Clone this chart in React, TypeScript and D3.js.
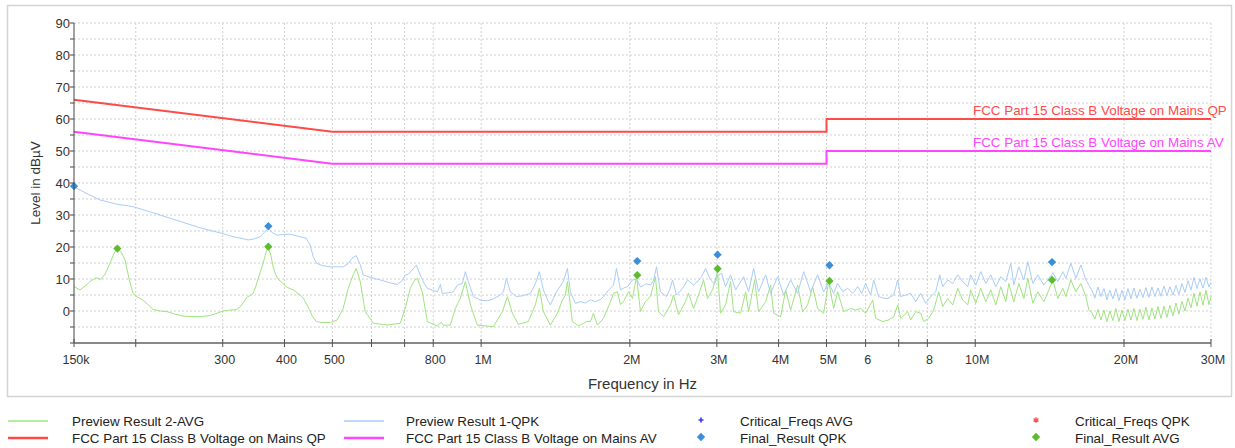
import React from "react";
import * as d3 from "d3";

// ---------- data ----------
const X_TICKS_MHZ = [0.15, 0.2, 0.3, 0.4, 0.5, 0.6, 0.7, 0.8, 1, 2, 3, 4, 5, 6, 7, 8, 10, 20, 30];
const X_TICK_LABELS = ["150k", "", "300", "400", "500", "", "", "800", "1M", "2M", "3M", "4M", "5M", "6", "", "8", "10M", "20M", "30M"];
const Y_LABEL_VALUES = [0, 10, 20, 30, 40, 50, 60, 70, 80, 90];
const Y_GRID_VALUES = [-5, 0, 5, 10, 15, 20, 25, 30, 35, 40, 45, 50, 55, 60, 65, 70, 75, 80, 85, 90];

const QP_LIMIT: [number, number][] = [[0.15, 66], [0.5, 56], [5, 56], [5, 60], [30, 60]];
const AV_LIMIT: [number, number][] = [[0.15, 56], [0.5, 46], [5, 46], [5, 50], [30, 50]];

const FINAL_QPK: [number, number][] = [[0.15, 39.0], [0.371, 26.5], [2.07, 15.6], [3.01, 17.6], [5.07, 14.3], [14.3, 15.3]];
const FINAL_AVG: [number, number][] = [[0.1836, 19.5], [0.371, 20.1], [2.07, 11.2], [3.01, 13.2], [5.07, 9.4], [14.3, 9.7]];

// Preview Result 1-QPK  [MHz, dBµV]
const PREVIEW_QPK: [number, number][] = [
  [0.150, 38.8], [0.1543, 37.8], [0.1616, 36.2], [0.1693, 34.7], [0.1816, 33.5], [0.1975, 32.6], [0.2138, 31.0],
  [0.2347, 29.0], [0.2700, 26.0], [0.2895, 24.8], [0.3033, 24.0], [0.3149, 23.2], [0.3253, 22.8], [0.3377, 22.2],
  [0.3489, 22.6], [0.3571, 23.2], [0.3638, 24.5], [0.3707, 26.0], [0.3777, 24.5], [0.3866, 23.7], [0.3975, 23.9],
  [0.4107, 24.0], [0.4303, 23.2], [0.4425, 22.8], [0.4509, 20.6], [0.4572, 17.0], [0.4637, 15.0], [0.4768, 14.2],
  [0.4950, 13.8], [0.5259, 13.8], [0.5383, 14.8], [0.5484, 16.5], [0.5587, 17.3], [0.5693, 14.5], [0.5773, 11.3],
  [0.5965, 10.5], [0.6249, 9.7], [0.6548, 8.8], [0.6765, 8.3], [0.6924, 9.5], [0.7022, 11.2], [0.7121, 11.5],
  [0.7255, 12.8], [0.7392, 14.4], [0.7531, 11.2], [0.7675, 8.5], [0.7783, 7.1], [0.7967, 6.5], [0.8154, 6.0],
  [0.8231, 7.5], [0.8269, 8.3], [0.8347, 5.5], [0.8584, 5.7], [0.8786, 6.0], [0.8951, 8.1], [0.9163, 8.6],
  [0.9292, 12.3], [0.9423, 9.2], [0.9646, 4.5], [0.9965, 3.4], [1.0295, 3.2], [1.0587, 3.8], [1.0939, 5.0],
  [1.1093, 6.0], [1.1248, 10.2], [1.1460, 6.0], [1.1785, 4.5], [1.2177, 4.8], [1.2581, 5.5], [1.2876, 8.5],
  [1.3118, 12.3], [1.3365, 6.6], [1.3681, 3.0], [1.3809, 1.9], [1.4201, 6.0], [1.4672, 9.2], [1.4949, 13.3],
  [1.5159, 6.0], [1.5515, 2.4], [1.5881, 2.9], [1.6261, 2.5], [1.6644, 3.5], [1.7037, 2.9], [1.7439, 3.6],
  [1.7685, 4.5], [1.8103, 6.5], [1.8530, 8.1], [1.8790, 13.3], [1.9144, 6.6], [1.9504, 7.3], [1.9779, 7.6],
  [2.0246, 9.7], [2.0626, 10.0], [2.1015, 7.5], [2.1611, 8.5], [2.2018, 8.1], [2.2328, 9.5], [2.2642, 13.8],
  [2.3069, 6.0], [2.3723, 4.5], [2.4057, 6.5], [2.4397, 9.7], [2.4856, 5.0], [2.5561, 7.0], [2.6166, 9.7],
  [2.6909, 8.1], [2.7544, 9.5], [2.7932, 10.7], [2.8457, 13.3], [2.9129, 9.7], [2.9677, 8.5], [3.0095, 11.0],
  [3.0662, 11.8], [3.1239, 7.6], [3.1976, 11.3], [3.2736, 6.6], [3.3981, 10.7], [3.4782, 6.0], [3.5603, 13.3],
  [3.6443, 6.0], [3.7651, 11.3], [3.8540, 5.5], [3.9819, 10.7], [4.0949, 5.0], [4.2305, 9.7], [4.3708, 5.5],
  [4.4949, 12.3], [4.6440, 6.0], [4.7980, 11.3], [4.9342, 6.0], [5.0505, 9.0], [5.1697, 5.5], [5.2666, 8.6],
  [5.3910, 6.0], [5.5181, 7.1], [5.6484, 5.5], [5.7815, 7.6], [5.8904, 5.5], [6.0013, 8.6], [6.1429, 5.0],
  [6.2295, 9.7], [6.3763, 4.5], [6.5268, 4.0], [6.6497, 3.9], [6.8385, 5.0], [6.9671, 9.7], [7.0654, 4.5],
  [7.2320, 5.0], [7.4027, 5.5], [7.5772, 2.9], [7.7560, 5.5], [7.9390, 2.4], [8.1264, 4.5], [8.3180, 6.0],
  [8.4746, 11.3], [8.5941, 7.6], [8.7967, 9.7], [9.0044, 8.6], [9.2167, 11.3], [9.4343, 9.2], [9.6567, 7.6],
  [9.7929, 11.3], [10.024, 8.1], [10.260, 12.3], [10.505, 8.6], [10.753, 11.3], [11.006, 7.6], [11.266, 10.7],
  [11.532, 9.2], [11.804, 14.9], [11.970, 8.1], [12.252, 13.8], [12.542, 9.7], [12.777, 15.4], [13.079, 8.6],
  [13.387, 11.3], [13.767, 8.1], [14.027, 9.7], [14.358, 12.0], [14.696, 9.2], [15.043, 12.3], [15.255, 10.2],
  [15.615, 14.9], [15.983, 10.2], [16.360, 14.4], [16.746, 9.7], [16.982, 8.1], [17.221, 6.5], [17.463, 4.0],
  [17.709, 7.5], [17.959, 4.5], [18.212, 7.0], [18.468, 3.5], [18.729, 6.5], [18.993, 3.8], [19.261, 7.0],
  [19.532, 3.2], [19.807, 6.5], [20.086, 3.5], [20.369, 7.0], [20.656, 3.8], [20.947, 7.2], [21.242, 4.0],
  [21.541, 6.8], [21.845, 4.2], [22.153, 7.3], [22.465, 4.3], [22.782, 7.5], [23.102, 4.5], [23.427, 7.2],
  [23.758, 4.6], [24.092, 7.8], [24.432, 4.8], [24.776, 7.6], [25.125, 5.0], [25.479, 8.0], [25.839, 5.2],
  [26.203, 8.6], [26.572, 5.8], [26.946, 9.5], [27.326, 6.5], [27.711, 10.5], [28.101, 7.0], [28.497, 10.0],
  [28.898, 7.2], [29.305, 10.5], [29.718, 7.5], [30.0, 9.0],
];

// Preview Result 2-AVG  [MHz, dBµV]
const PREVIEW_AVG: [number, number][] = [
  [0.150, 7.6], [0.1543, 6.6], [0.1586, 8.0], [0.1616, 9.2], [0.1662, 10.4], [0.1701, 9.9], [0.1733, 11.5],
  [0.1774, 14.9], [0.1808, 18.0], [0.1833, 19.5], [0.1868, 18.5], [0.1903, 15.9], [0.1939, 10.0], [0.1975, 5.5],
  [0.2022, 4.3], [0.2069, 3.4], [0.2118, 2.0], [0.2168, 0.5], [0.2240, 0.0], [0.2314, -0.2], [0.2402, -1.0],
  [0.2494, -1.6], [0.2700, -1.8], [0.2828, -1.4], [0.2922, -0.7], [0.3005, 0.0], [0.3105, 0.3], [0.3193, 0.4],
  [0.3253, 1.3], [0.3314, 3.0], [0.3361, 4.3], [0.3456, 5.5], [0.3505, 8.0], [0.3538, 10.2], [0.3621, 14.9],
  [0.3672, 18.5], [0.3707, 20.0], [0.3759, 17.0], [0.3794, 13.8], [0.3848, 11.0], [0.3884, 9.9], [0.3975, 8.6],
  [0.4050, 7.4], [0.4165, 6.6], [0.4303, 5.0], [0.4364, 4.0], [0.4467, 1.3], [0.4551, -1.5], [0.4637, -3.3],
  [0.4768, -3.6], [0.4950, -3.6], [0.5114, -2.8], [0.5186, -1.0], [0.5259, 0.8], [0.5383, 7.1], [0.5510, 11.3],
  [0.5587, 13.3], [0.5693, 9.2], [0.5827, -0.2], [0.6049, -3.8], [0.6457, -4.4], [0.6860, -3.8], [0.7022, 0.8],
  [0.7188, 7.1], [0.7323, 9.5], [0.7426, 10.2], [0.7601, 6.0], [0.7783, -3.3], [0.8154, -4.7], [0.8308, -3.5],
  [0.8386, -4.5], [0.8664, -4.4], [0.8868, 0.8], [0.9078, 4.0], [0.9292, 9.2], [0.9512, 1.9], [0.9826, -4.4],
  [1.0587, -4.9], [1.1041, -0.2], [1.1301, 4.5], [1.1568, -0.7], [1.1896, -4.2], [1.2464, -3.3], [1.2876, 1.9],
  [1.3118, 7.1], [1.3365, -0.2], [1.3809, -4.4], [1.4267, -0.7], [1.4604, 3.4], [1.4810, 5.0], [1.4949, 9.2],
  [1.5301, -3.3], [1.5660, -4.4], [1.5881, -4.4], [1.6337, -3.3], [1.6644, -3.3], [1.6879, -0.7], [1.7197, -4.4],
  [1.7685, -2.3], [1.8272, 2.9], [1.8530, 5.5], [1.8878, 6.0], [1.9144, 2.0], [1.9414, 2.9], [1.9871, 6.0],
  [2.0246, 3.9], [2.0626, 10.7], [2.1015, -0.2], [2.1510, 3.0], [2.2018, 4.5], [2.2537, 10.7], [2.2854, -0.2],
  [2.3394, -1.8], [2.4170, 1.9], [2.4511, 5.0], [2.5089, -1.2], [2.5924, 3.0], [2.6289, 5.5], [2.6909, 0.8],
  [2.7544, 5.0], [2.8194, 9.7], [2.8724, 3.9], [2.9402, 6.6], [3.0095, 12.3], [3.0519, -0.7], [3.1239, 1.9],
  [3.1976, 9.2], [3.2427, -0.2], [3.3509, -0.7], [3.4298, 6.0], [3.4782, -0.2], [3.5769, 9.7], [3.6443, -0.2],
  [3.7651, 2.9], [3.8540, 8.1], [3.9083, -0.7], [4.0380, -1.8], [4.1330, 6.6], [4.2305, 0.3], [4.3708, 8.1],
  [4.4740, -0.2], [4.5794, 1.9], [4.6875, 7.6], [4.7980, 0.8], [4.9342, -0.7], [5.0505, 9.2], [5.1697, 0.8],
  [5.2666, 6.0], [5.4161, -0.2], [5.5959, 0.8], [5.7278, 0.3], [5.8630, 0.8], [6.0013, -0.7], [6.2005, 3.4],
  [6.2877, -2.3], [6.4965, -3.3], [6.6809, -2.8], [6.8385, -1.8], [6.9671, 1.9], [7.0654, -2.3], [7.2998, -0.2],
  [7.4027, -2.8], [7.5772, -0.2], [7.7560, -0.7], [7.8653, -3.3], [8.0509, -2.3], [8.2409, 0.3], [8.4352, 6.0],
  [8.5941, 1.4], [8.7967, 3.9], [9.0044, 1.9], [9.2167, 7.1], [9.4343, 3.4], [9.6567, 1.9], [9.7929, 6.6],
  [10.024, 2.4], [10.260, 7.1], [10.505, 2.9], [10.753, 6.6], [11.006, 1.9], [11.266, 7.6], [11.532, 2.9],
  [11.694, 8.6], [11.970, 2.9], [12.252, 8.6], [12.542, 3.9], [12.777, 10.2], [13.079, 2.4], [13.387, 6.0],
  [13.767, 2.9], [14.092, 6.6], [14.358, 9.7], [14.696, 3.9], [15.043, 7.1], [15.255, 4.5], [15.615, 9.7],
  [15.983, 6.0], [16.360, 8.6], [16.746, 4.5], [16.982, 0.3], [17.221, -0.5], [17.463, -2.5], [17.709, 0.5],
  [17.959, -2.8], [18.212, 0.3], [18.468, -3.3], [18.729, 0.0], [18.993, -3.0], [19.261, 0.8], [19.532, -3.3],
  [19.807, 0.3], [20.086, -3.0], [20.369, 0.6], [20.656, -2.8], [20.947, 0.8], [21.242, -3.0], [21.541, 0.5],
  [21.845, -2.6], [22.153, 1.2], [22.465, -2.8], [22.782, 1.0], [23.102, -2.5], [23.427, 1.4], [23.758, -2.3],
  [24.092, 1.5], [24.432, -2.0], [24.776, 1.8], [25.125, -1.5], [25.479, 2.5], [25.839, -1.0], [26.203, 3.0],
  [26.572, 0.0], [26.946, 4.0], [27.326, 1.0], [27.711, 5.5], [28.101, 1.5], [28.497, 6.0], [28.898, 1.8],
  [29.305, 6.5], [29.718, 2.0], [30.0, 4.5],
];

const LIMIT_LABELS = ["FCC Part 15 Class B Voltage on Mains QP", "FCC Part 15 Class B Voltage on Mains AV"];

// ---------- styling ----------
const FONT = "'Liberation Sans', Arial, sans-serif";
const C_QPK = "#a9cdf6";
const C_AVG = "#9fe47f";
const C_QP = "#ff4a4a";
const C_AV = "#ff45ff";
const C_QPK_PT = "#3a8fd9";
const C_AVG_PT = "#5bbd2c";

export default function App() {
  const W = 1235, H = 448;
  const x = d3.scaleLog().domain([0.15, 30]).range([74, 1211]);
  const y = d3.scaleLinear().domain([-10, 90]).range([343, 23]);
  const line = d3.line<[number, number]>().x((d) => x(d[0])).y((d) => y(d[1]));
  const diamond = d3.symbol().type(d3.symbolDiamond2).size(44)();
  const plus = d3.symbol().type(d3.symbolCross).size(14)();
  const star = d3.symbol().type(d3.symbolAsterisk).size(22)();
  const [x0, x1] = x.range();
  const [yb, yt] = y.range();

  const legend = [
    { kind: "line", color: C_AVG, label: "Preview Result 2-AVG", lx: 8, tx: 72, row: 0, w: 1.5 },
    { kind: "line", color: C_QPK, label: "Preview Result 1-QPK", lx: 344, tx: 406, row: 0, w: 1.5 },
    { kind: "plus", color: "#3b3bf0", label: "Critical_Freqs AVG", lx: 701, tx: 740, row: 0 },
    { kind: "star", color: "#ff5050", label: "Critical_Freqs QPK", lx: 1036, tx: 1075, row: 0 },
    { kind: "line", color: C_QP, label: LIMIT_LABELS[0], lx: 8, tx: 72, row: 1, w: 2.5 },
    { kind: "line", color: C_AV, label: LIMIT_LABELS[1], lx: 344, tx: 406, row: 1, w: 2.5 },
    { kind: "diamond", color: C_QPK_PT, label: "Final_Result QPK", lx: 701, tx: 740, row: 1 },
    { kind: "diamond", color: C_AVG_PT, label: "Final_Result AVG", lx: 1036, tx: 1075, row: 1 },
  ];
  const rowY = [421, 438];

  return (
    <svg width={W} height={H} style={{ position: "absolute", left: 0, top: 0, background: "#fff" }} fontFamily={FONT}>
      <rect x={7.5} y={5.5} width={1224} height={391} fill="#fff" stroke="#d4d4d4" strokeWidth={1.5} />

      {/* grid */}
      {Y_GRID_VALUES.map((v) => (
        <line key={"gy" + v} x1={x0} x2={x1} y1={y(v)} y2={y(v)} stroke="#cfcfcf" strokeDasharray="2,2" />
      ))}
      {X_TICKS_MHZ.slice(1).map((f) => (
        <line key={"gx" + f} x1={x(f)} x2={x(f)} y1={yt} y2={yb} stroke="#cfcfcf" strokeDasharray="2,2" />
      ))}

      {/* limits */}
      <path d={line(QP_LIMIT) || ""} fill="none" stroke={C_QP} strokeWidth={2} />
      <path d={line(AV_LIMIT) || ""} fill="none" stroke={C_AV} strokeWidth={2} />
      <text x={973} y={y(60) - 4.5} fontSize={13.4} fill={C_QP}>{LIMIT_LABELS[0]}</text>
      <text x={973} y={y(50) - 4.5} fontSize={13.4} fill={C_AV}>{LIMIT_LABELS[1]}</text>

      {/* traces */}
      <path d={line(PREVIEW_AVG) || ""} fill="none" stroke={C_AVG} strokeWidth={1} />
      <path d={line(PREVIEW_QPK) || ""} fill="none" stroke={C_QPK} strokeWidth={1} />

      {/* final results */}
      {FINAL_QPK.map((d, i) => (
        <path key={"fq" + i} d={diamond || ""} transform={`translate(${x(d[0])},${y(d[1])})`} fill={C_QPK_PT} />
      ))}
      {FINAL_AVG.map((d, i) => (
        <path key={"fa" + i} d={diamond || ""} transform={`translate(${x(d[0])},${y(d[1])})`} fill={C_AVG_PT} />
      ))}

      {/* axes */}
      <line x1={x0} x2={x0} y1={yt} y2={yb} stroke="#444" strokeWidth={1} />
      {Y_GRID_VALUES.concat([-10]).map((v) => (
        <line key={"ty" + v} x1={x0 - 4} x2={x0} y1={y(v)} y2={y(v)} stroke="#444" />
      ))}
      {Y_LABEL_VALUES.map((v) => (
        <text key={"ly" + v} x={70} y={y(v)} dy="0.35em" textAnchor="end" fontSize={13} fill="#333">{v}</text>
      ))}
      <line x1={x0} x2={x1} y1={yb} y2={yb} stroke="#888" strokeWidth={2} />
      {X_TICKS_MHZ.map((f, i) => (
        <g key={"tx" + f}>
          <line x1={x(f)} x2={x(f)} y1={yb - 4} y2={yb + 4} stroke="#555" />
          {X_TICK_LABELS[i] && (
            <text x={x(f) + 2} y={yb + 21} textAnchor="middle" fontSize={12.5} fill="#333">{X_TICK_LABELS[i]}</text>
          )}
        </g>
      ))}
      <text x={(x0 + x1) / 2} y={389} textAnchor="middle" fontSize={15} fill="#333">Frequency in Hz</text>
      <text transform={`translate(39.5,${(yt + yb) / 2}) rotate(-90)`} textAnchor="middle" fontSize={13.5} fill="#333">Level in dBµV</text>

      {/* legend */}
      {legend.map((l, i) => {
        const ly = rowY[l.row];
        let mark: React.ReactNode = null;
        if (l.kind === "line") mark = <line x1={l.lx} x2={l.lx + 40} y1={ly} y2={ly} stroke={l.color} strokeWidth={l.w} />;
        else if (l.kind === "plus") mark = <path d={plus || ""} transform={`translate(${l.lx},${ly - 1})`} fill={l.color} />;
        else if (l.kind === "star") mark = <path d={star || ""} transform={`translate(${l.lx},${ly - 1})`} fill="none" stroke={l.color} strokeWidth={1.3} />;
        else mark = <path d={diamond || ""} transform={`translate(${l.lx},${ly - 1})`} fill={l.color} />;
        return (
          <g key={"lg" + i}>
            {mark}
            <text x={l.tx} y={ly} dy="0.35em" fontSize={13.4} fill="#222">{l.label}</text>
          </g>
        );
      })}
    </svg>
  );
}
